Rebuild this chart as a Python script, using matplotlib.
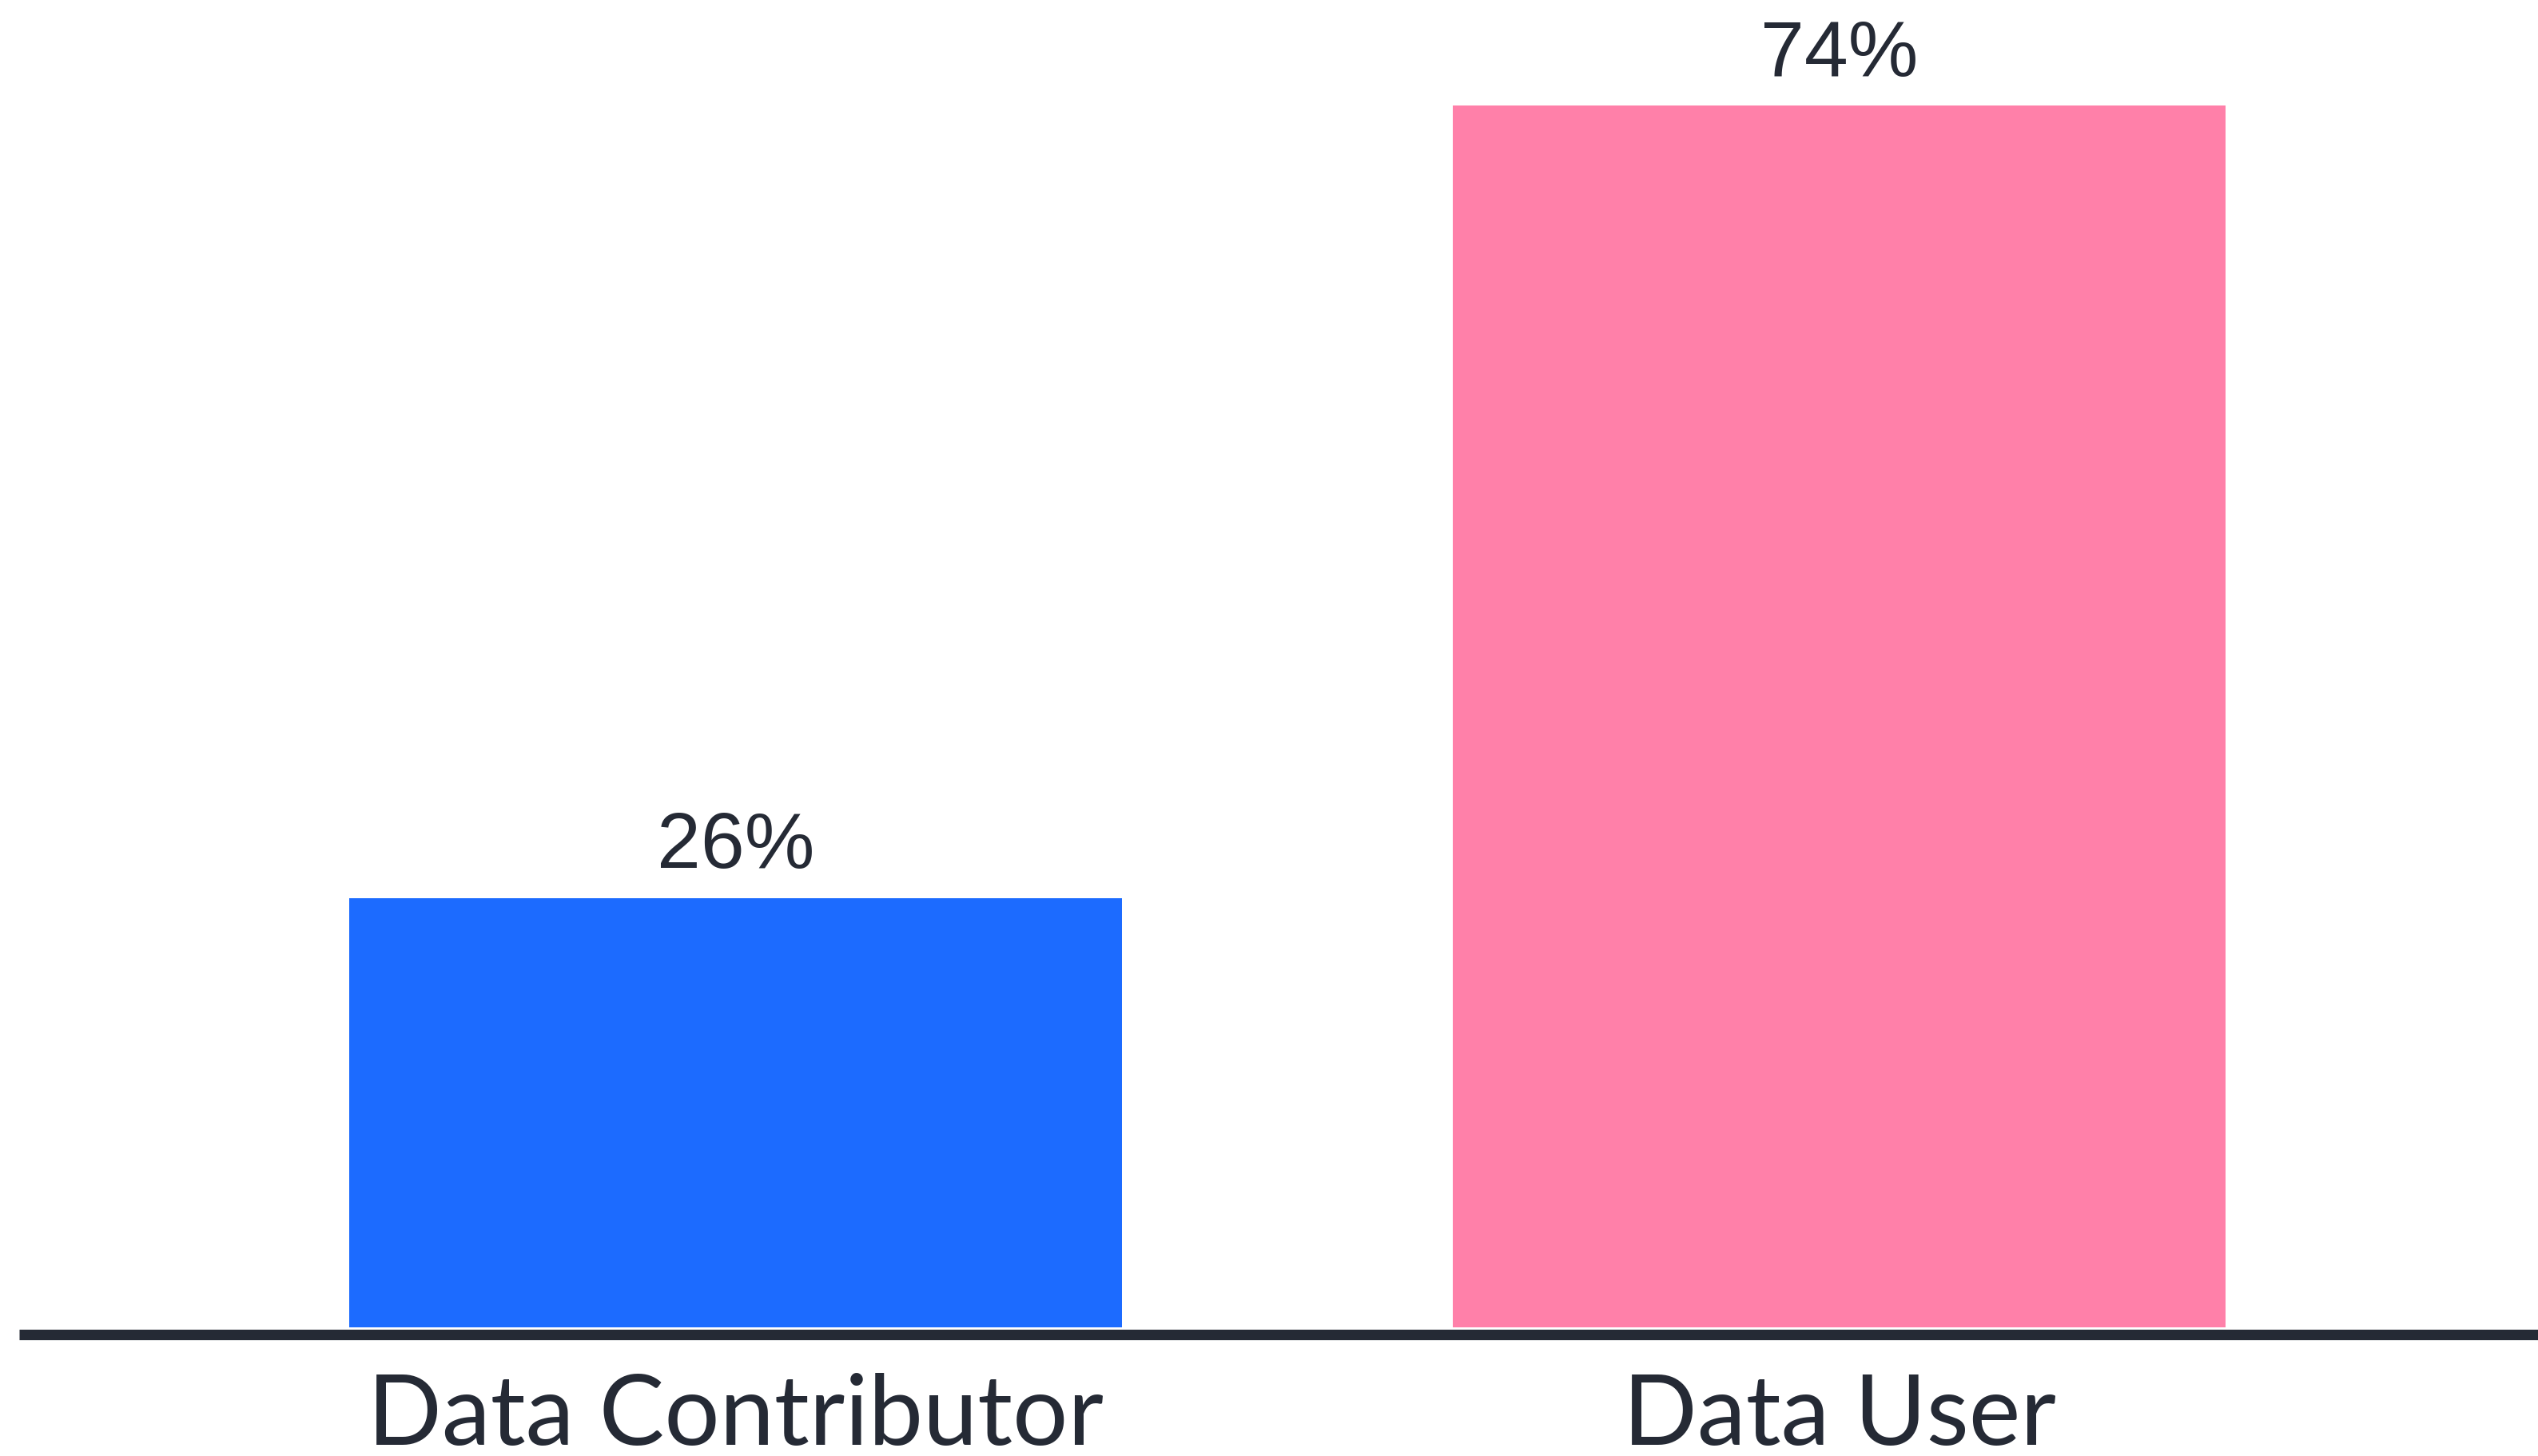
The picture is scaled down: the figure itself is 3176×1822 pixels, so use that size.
import matplotlib.pyplot as plt

# ---------------------------------------------------------------------------
# Data
# ---------------------------------------------------------------------------
categories = ['Data Contributor', 'Data User']
shares = [26, 74]
bar_colors = ['#1C6BFF', '#FF80A9']

INK = '#252A35'

# ---------------------------------------------------------------------------
# Figure
# ---------------------------------------------------------------------------
fig = plt.figure(figsize=(31.76, 18.22), dpi=100)
ax = fig.add_axes([24 / 3176, (1822 - 1670) / 1822, 1 - 24 / 3176, 1670 / 1822])

x = list(range(len(categories)))
bars = ax.bar(x, shares, width=0.70, color=bar_colors, zorder=2)

for rect, val in zip(bars, shares):
    ax.annotate(f'{val}%', (rect.get_x() + rect.get_width() / 2, rect.get_height()),
                xytext=(0, 27), textcoords='offset points',
                ha='center', va='baseline', fontsize=71,
                family='Liberation Sans', color=INK)

ax.set_xlim(-0.649, 1.633)
ax.set_ylim(-0.436, 80.4)

ax.set_xticks(x, categories)
ax.tick_params(axis='x', length=0, pad=99.4)
ax.set_yticks([])
for lbl in ax.get_xticklabels():
    lbl.set_fontsize(88)
    lbl.set_family('Lato')
    lbl.set_color(INK)
    lbl.set_verticalalignment('baseline')

for side in ['top', 'right', 'left']:
    ax.spines[side].set_visible(False)
ax.spines['bottom'].set_color(INK)
ax.spines['bottom'].set_linewidth(9.5)
ax.spines['bottom'].set_capstyle('butt')

fig.savefig('out.png', dpi=100)
